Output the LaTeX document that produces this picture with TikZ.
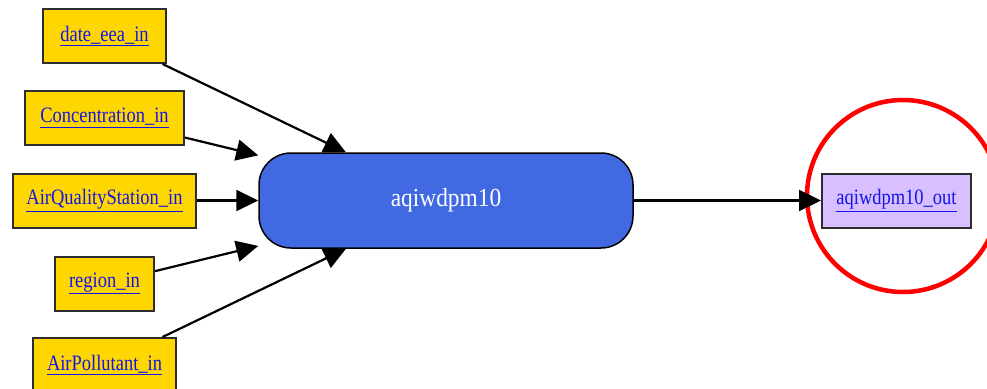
\documentclass[tikz,border=0pt]{standalone}
\usepackage{fontspec}
\setmainfont{Liberation Serif}
\usepackage{xcolor}
\usepackage{graphicx}
\usetikzlibrary{arrows.meta}

\definecolor{inyellow}{RGB}{255,215,0}
\definecolor{procblue}{RGB}{65,105,225}
\definecolor{outlilac}{RGB}{216,191,255}
\definecolor{linkblue}{RGB}{20,20,235}
\definecolor{framegray}{RGB}{45,45,45}
\newcommand{\lnk}[1]{\scalebox{0.84}[1]{\textcolor{linkblue}{\underline{#1}}}}

\begin{document}
\begin{tikzpicture}[x=1pt,y=-1pt,
    inport/.style={draw=framegray,line width=2pt,fill=inyellow,minimum height=54pt,
      inner sep=0pt,font=\fontsize{22}{24}\selectfont},
    outport/.style={inport,fill=outlilac},
    proc/.style={draw=black,line width=1.5pt,fill=procblue,rounded corners=32pt,
      minimum width=374pt,minimum height=95pt,text=white,font=\fontsize{26}{28}\selectfont},
    flow/.style={line width=2.2pt,-{Triangle[length=22pt,width=21pt]}}]
		\useasboundingbox (0,0) rectangle (987,388);
		% input ports
		\node[inport,minimum width=123pt] (date) at (104.5,36) {\lnk{date\_eea\_in}};
		\node[inport,minimum width=159pt] (conc) at (104.5,118) {\lnk{Concentration\_in}};
		\node[inport,minimum width=183pt] (station) at (104.5,200.5) {\lnk{AirQualityStation\_in}};
		\node[inport,minimum width=99pt] (region) at (104.5,283.5) {\lnk{region\_in}};
		\node[inport,minimum width=143pt] (pollutant) at (104.5,365) {\lnk{AirPollutant\_in}};
		% process and output
		\node[proc] (aqi) at (446,200.5) {\scalebox{0.9}[1]{aqiwdpm10}};
		\node[outport,minimum width=149pt] (aqiout) at (896.5,200.5) {\lnk{aqiwdpm10\_out}};
		\draw[red,line width=4.5pt] (903,196) circle (96);
		% edges
		\draw[flow] (date) -- (aqi);
		\draw[flow] (conc) -- (aqi);
		\draw[flow] (station) -- (aqi);
		\draw[flow] (region) -- (aqi);
		\draw[flow] (pollutant) -- (aqi);
		\draw[flow] (aqi) -- (aqiout);
	\end{tikzpicture}
\end{document}
